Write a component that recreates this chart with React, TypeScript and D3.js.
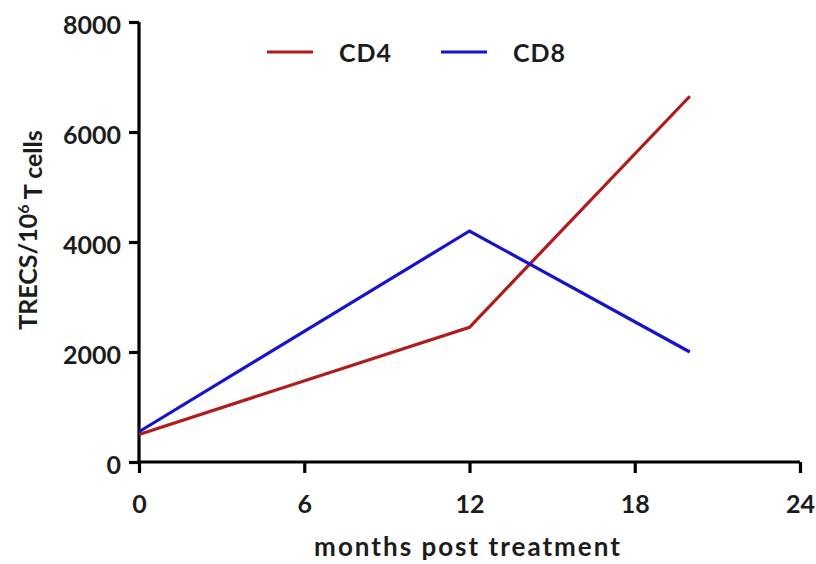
import { useEffect, useRef } from 'react';
import * as d3 from 'd3';

const months = [0, 12, 20];
const cd4 = [500, 2450, 6650];
const cd8 = [550, 4200, 2000];
const xTicks = [0, 6, 12, 18, 24];
const yTicks = [0, 2000, 4000, 6000, 8000];
const seriesNames = ['CD4', 'CD8'];
const seriesColors = ['#b01c1c', '#1414cc'];

export default function App() {
    const ref = useRef<SVGSVGElement>(null);

    useEffect(() => {
        if (!ref.current) return;
        const svg = d3.select(ref.current);
        svg.selectAll('*').remove();

        const width = 816;
        const height = 564;
        const font = 'Lato, "Open Sans", sans-serif';
        const ink = '#1c1c1c';

        const x = d3.scaleLinear().domain([0, 24]).range([139, 800]);
        const y = d3.scaleLinear().domain([0, 8000]).range([462, 22]);

        svg.attr('width', width).attr('height', height);

        // Axes
        const xAxis = svg.append('g')
            .attr('transform', `translate(0, ${y(0)})`)
            .call(d3.axisBottom(x).tickValues(xTicks).tickFormat(d3.format('d')).tickSize(11).tickPadding(22).tickSizeOuter(0));
        const yAxis = svg.append('g')
            .attr('transform', `translate(${x(0)}, 0)`)
            .call(d3.axisLeft(y).tickValues(yTicks).tickFormat(d3.format('d')).tickSize(10).tickPadding(8).tickSizeOuter(0));

        [xAxis, yAxis].forEach(a => {
            a.select('.domain').attr('stroke', '#000').attr('stroke-width', 3.2);
            a.selectAll('.tick line').attr('stroke', '#000').attr('stroke-width', 3.2);
            a.selectAll('.tick text')
                .attr('fill', ink)
                .attr('font-family', font)
                .attr('font-weight', 700)
                .attr('font-size', '25px');
        });
        xAxis.select('.domain').attr('d', `M${x(0) - 1.6},0H${x(24)}`);
        yAxis.select('.domain').attr('d', `M0,${y(0) + 1.6}V${y(8000)}`);
        xAxis.selectAll('.tick text').attr('dy', '0.71em');
        yAxis.selectAll('.tick text').attr('dy', '0.45em');

        // Lines
        const line = d3.line<number>()
            .x((_, i) => x(months[i]))
            .y(d => y(d));

        [cd4, cd8].forEach((vals, i) => {
            svg.append('path')
                .attr('d', line(vals) as string)
                .attr('fill', 'none')
                .attr('stroke', seriesColors[i])
                .attr('stroke-width', 3.2)
                .attr('stroke-linejoin', 'miter');
        });

        // Legend
        const legendX = [267, 441];
        seriesNames.forEach((name, i) => {
            svg.append('line')
                .attr('x1', legendX[i]).attr('x2', legendX[i] + 46)
                .attr('y1', 52).attr('y2', 52)
                .attr('stroke', seriesColors[i])
                .attr('stroke-width', 3.2);
            svg.append('text')
                .attr('x', legendX[i] + 72)
                .attr('y', 62)
                .attr('fill', ink)
                .attr('font-family', font)
                .attr('font-weight', 700)
                .attr('font-size', '25px')
                .attr('letter-spacing', '1px')
                .text(name);
        });

        // Axis titles
        svg.append('text')
            .attr('x', 468)
            .attr('y', 556)
            .attr('text-anchor', 'middle')
            .attr('fill', ink)
            .attr('font-family', font)
            .attr('font-weight', 700)
            .attr('font-size', '26px')
            .attr('letter-spacing', '2px')
            .text('months post treatment');

        const yt = svg.append('text')
            .attr('transform', 'translate(37, 230) rotate(-90)')
            .attr('text-anchor', 'middle')
            .attr('fill', ink)
            .attr('font-family', font)
            .attr('font-weight', 700)
            .attr('font-size', '25px');
        yt.append('tspan').text('TRECS/10');
        yt.append('tspan').attr('dy', '-0.5em').attr('font-size', '16px').text('6');
        yt.append('tspan').attr('dy', '0.5em').text(' T cells');
    }, []);

    return <svg ref={ref} style={{ position: 'absolute', left: 0, top: 0, background: '#fff' }} />;
}
